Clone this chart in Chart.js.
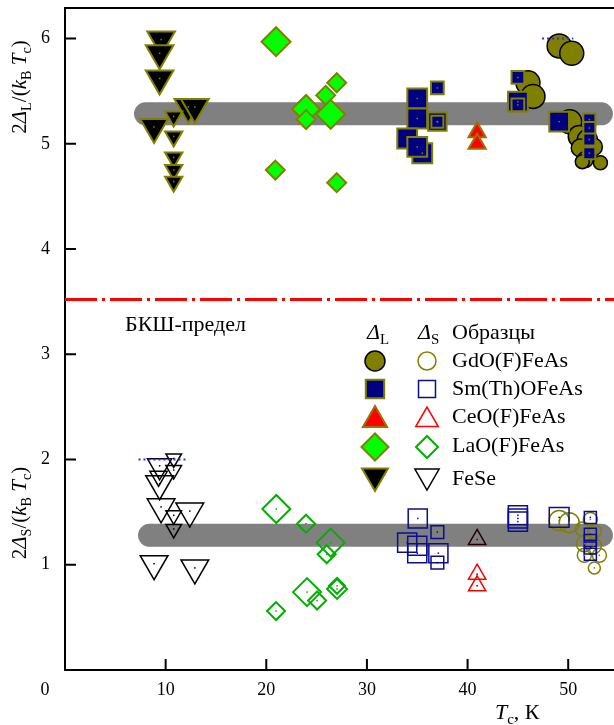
<!DOCTYPE html>
<html>
<head>
<meta charset="utf-8">
<script src="https://cdn.jsdelivr.net/npm/chart.js@4.4.1/dist/chart.umd.min.js"></script>
<style>
  html, body { margin: 0; padding: 0; background: #fff; }
  canvas { display: block; }
</style>
</head>
<body>
<canvas id="gapChart" width="614" height="725"></canvas>
<script>
// --- data: Tc (K) and 2Δ/(kB Tc) ---

// large gap Δ_L (filled markers)
const gdoL_T = [49.1, 50.35, 46.0, 46.5, 50.15, 51.1, 51.9, 51.2, 52.5, 51.7, 51.4, 53.2];
const gdoL_V = [5.93, 5.86, 5.58, 5.45, 5.21, 5.07, 5.04, 4.96, 4.97, 4.85, 4.83, 4.82];
const smoL_T = [35.0, 37.0, 35.0, 37.0, 37.0, 34.0, 35.5, 35.0, 45.0, 45.0, 45.0, 49.1, 52.1, 52.1, 52.1, 52.1];
const smoL_V = [5.43, 5.53, 5.24, 5.21, 5.21, 5.05, 4.91, 4.97, 5.63, 5.40, 5.37, 5.21, 5.23, 5.15, 5.04, 4.91];
const ceoL_T = [40.95, 40.95];
const ceoL_V = [5.11, 5.00];
const laoL_T = [20.97, 27.0, 25.9, 23.95, 23.95, 26.4, 20.9, 27.0];
const laoL_V = [5.97, 5.58, 5.46, 5.33, 5.23, 5.28, 4.75, 4.63];
const feseL_T = [9.55, 9.4, 9.4, 8.85, 12.25, 12.9, 10.8, 10.8, 10.8, 10.8, 10.8];
const feseL_V = [5.99, 5.86, 5.62, 5.16, 5.35, 5.35, 5.26, 5.07, 4.87, 4.75, 4.64];

// small gap Δ_S (open markers)
const gdoS_T = [49.1, 50.1, 51.4, 52.6, 51.6, 52.5, 51.6, 53.1, 52.6, 52.2];
const gdoS_V = [1.42, 1.40, 1.34, 1.32, 1.20, 1.18, 1.09, 1.09, 0.97, 1.43];
const smoS_T = [35.05, 37.0, 34.0, 35.0, 35.0, 37.1, 37.0, 45.0, 45.0, 45.0, 49.1, 52.2, 52.2, 52.2, 52.2, 52.2];
const smoS_V = [1.44, 1.31, 1.21, 1.18, 1.11, 1.11, 1.02, 1.47, 1.44, 1.41, 1.45, 1.45, 1.29, 1.23, 1.16, 1.10];
const ceoS_T = [40.95, 40.95, 40.95];
const ceoS_V = [1.24, 0.91, 0.80];
const laoS_T = [21.0, 23.95, 26.4, 26.0, 24.05, 25.05, 27.03, 27.03, 20.97];
const laoS_V = [1.53, 1.39, 1.21, 1.10, 0.74, 0.66, 0.80, 0.77, 0.56];
const feseS_T = [9.4, 10.8, 10.8, 9.3, 9.4, 9.55, 12.4, 10.8, 10.8, 8.85, 12.9];
const feseS_V = [1.94, 2.01, 1.90, 1.84, 1.77, 1.55, 1.51, 1.47, 1.34, 1.01, 0.97];

// guide levels
const bcsLimit = 3.52;
const bandL = 5.285, bandL_T = [8.0, 53.3];
const bandS = 1.28, bandS_T = [8.4, 53.3];
const limitL = 6.0, limitL_T = [47.4, 50.5];
const limitS = 2.0, limitS_T = [7.3, 12.1];

const xTicks = [10, 20, 30, 40, 50];
const yTicks = [1, 2, 3, 4, 5, 6];
const sampleNames = ['GdO(F)FeAs', 'Sm(Th)OFeAs', 'CeO(F)FeAs', 'LaO(F)FeAs', 'FeSe'];

// --- marker sizes (px) ---
const gdoL_R = [12, 12, 12, 12, 12, 11, 10, 9, 9, 8, 7, 7];
const smoL_R = [14, 9, 14, 13, 8.5, 14, 14, 14, 9, 14, 9, 14, 8.5, 8.5, 8.5, 8.5];
const laoL_R = [14.5, 9.5, 9.5, 14, 9.5, 14.5, 9.5, 9.5];
const feseL_R = [16, 16, 16, 16, 16, 16, 10, 10, 10, 10, 10];
const gdoS_R = [10, 10, 7, 7, 8, 8, 7, 7, 6, 7];
const smoS_R = [13.5, 9, 13.5, 13.5, 13.5, 13.5, 9, 13.5, 13.5, 13.5, 14, 8.5, 8.5, 8.5, 8.5, 8.5];
const laoS_R = [14, 9, 14, 9, 14, 9, 8, 10, 9];
const feseS_R = [14, 9, 9, 10, 16, 16, 16, 9, 9, 16, 16];

const FONT = '"Liberation Serif", "Times New Roman", serif';
const OLIVE = '#808000';

// big markers sit right at the frame; don't let them shrink the plot area
Chart.registry.getController('scatter').prototype.getMaxOverflow = function () { return 0; };

function pts(T, V) {
  return T.map((t, i) => ({ x: t, y: V[i] }));
}

function markers(label, T, V, st) {
  return {
    label: label,
    data: pts(T, V),
    pointStyle: st.shape,
    pointRotation: st.rot || 0,
    pointRadius: st.size,
    pointHoverRadius: st.size,
    pointBackgroundColor: st.fill,
    backgroundColor: st.fill,
    pointBorderColor: st.line,
    borderColor: st.line,
    pointBorderWidth: st.lw,
    pointHoverBorderWidth: st.lw,
    order: st.order || 1,
    dotColor: st.dot
  };
}

function hline(y, T, st) {
  return {
    data: pts(T, T.map(() => y)),
    showLine: true,
    borderColor: st.color,
    borderWidth: st.width,
    borderDash: st.dash || [],
    borderCapStyle: st.cap || 'butt',
    pointRadius: 0,
    pointHoverRadius: 0,
    order: st.order
  };
}

const NONE = 'rgba(0,0,0,0)';
const datasets = [
  hline(bandL, bandL_T, { color: '#808080', width: 23, cap: 'round', order: 10 }),
  hline(bandS, bandS_T, { color: '#808080', width: 23, cap: 'round', order: 10 }),
  hline(bcsLimit, [0, 54.6], { color: '#ff0000', width: 3, dash: [32, 5, 3, 5], order: 9 }),
  hline(limitL, limitL_T, { color: '#2a2aff', width: 2, dash: [2, 3], order: 0 }),
  hline(limitS, limitS_T, { color: '#2a2aff', width: 2, dash: [2, 3], order: 0 }),

  markers('GdO L', gdoL_T, gdoL_V, { shape: 'circle', size: gdoL_R, fill: OLIVE, line: '#000', lw: 1.5, order: 3 }),
  markers('Sm L', smoL_T, smoL_V, { shape: 'rect', size: smoL_R, fill: '#000080', line: OLIVE, lw: 2, order: 2, dot: OLIVE }),
  markers('Ce L', ceoL_T, ceoL_V, { shape: 'triangle', size: 10, fill: '#ff0000', line: '#a07000', lw: 2, order: 2 }),
  markers('La L', laoL_T, laoL_V, { shape: 'rectRot', size: laoL_R, fill: '#00ff00', line: OLIVE, lw: 2, order: 2 }),
  markers('FeSe L', feseL_T, feseL_V, { shape: 'triangle', rot: 180, size: feseL_R, fill: '#000', line: OLIVE, lw: 2, order: 2, dot: OLIVE }),

  markers('GdO S', gdoS_T, gdoS_V, { shape: 'circle', size: gdoS_R, fill: NONE, line: OLIVE, lw: 1.5, order: 3, dot: OLIVE }),
  markers('Sm S', smoS_T, smoS_V, { shape: 'rect', size: smoS_R, fill: NONE, line: '#0c0c90', lw: 1.5, order: 2, dot: '#0c0c90' }),
  markers('Ce S', ceoS_T, ceoS_V, { shape: 'triangle', size: 10, fill: NONE, line: ['#200000', '#ff0000', '#ff0000'], lw: 1.5, order: 2, dot: '#600000' }),
  markers('La S', laoS_T, laoS_V, { shape: 'rectRot', size: laoS_R, fill: NONE, line: '#00b000', lw: 2, order: 2, dot: '#00b000' }),
  markers('FeSe S', feseS_T, feseS_V, { shape: 'triangle', rot: 180, size: feseS_R, fill: NONE, line: '#000', lw: 1.5, order: 2, dot: '#000' })
];

// legend symbols (pixel layout of the key block)
const keyRows = [
  { y: 361, L: { pointStyle: 'circle', radius: 10, fill: OLIVE, line: '#000', lw: 1.5 },
            S: { pointStyle: 'circle', radius: 9, fill: NONE, line: OLIVE, lw: 1.5 } },
  { y: 389, L: { pointStyle: 'rect', radius: 13, fill: '#000080', line: OLIVE, lw: 2 },
            S: { pointStyle: 'rect', radius: 12, fill: NONE, line: '#0c0c90', lw: 1.5 } },
  { y: 420, L: { pointStyle: 'triangle', radius: 14, fill: '#ff0000', line: '#a07000', lw: 2 },
            S: { pointStyle: 'triangle', radius: 13, fill: NONE, line: '#ff0000', lw: 1.5 } },
  { y: 447, L: { pointStyle: 'rectRot', radius: 13.5, fill: '#00ff00', line: OLIVE, lw: 2 },
            S: { pointStyle: 'rectRot', radius: 11, fill: NONE, line: '#00b000', lw: 2 } },
  { y: 476, L: { pointStyle: 'triangle', rotation: 180, radius: 15, fill: '#000', line: OLIVE, lw: 2 },
            S: { pointStyle: 'triangle', rotation: 180, radius: 14, fill: NONE, line: '#000', lw: 1.5 } }
];
const keyBase = [367, 395, 423, 452, 485];
const TEXT = 22;

// draws text made of normal / italic / subscript parts, centred on x
function rich(ctx, parts, x, y, size, align) {
  const fontOf = p => (p.i ? 'italic ' : '') + (p.sub ? size * 0.68 : size) + 'px ' + FONT;
  let w = 0;
  parts.forEach(p => { ctx.font = fontOf(p); p.w = ctx.measureText(p.t).width; w += p.w; });
  let cx = align === 'left' ? x : x - w / 2;
  ctx.textAlign = 'left';
  ctx.textBaseline = 'alphabetic';
  parts.forEach(p => {
    ctx.font = fontOf(p);
    ctx.fillText(p.t, cx, y + (p.sub ? size * 0.22 : 0));
    cx += p.w;
  });
}

function symbol(ctx, s, x, y) {
  ctx.save();
  ctx.fillStyle = s.fill;
  ctx.strokeStyle = s.line;
  ctx.lineWidth = s.lw;
  Chart.helpers.drawPoint(ctx, { pointStyle: s.pointStyle, radius: s.radius, rotation: s.rotation || 0, borderWidth: s.lw }, x, y);
  ctx.restore();
}

const decor = {
  id: 'decor',
  afterDatasetsDraw(chart) {
    const ctx = chart.ctx;
    ctx.save();
    chart.data.datasets.forEach((ds, i) => {
      if (!ds.dotColor) return;
      ctx.fillStyle = ds.dotColor;
      chart.getDatasetMeta(i).data.forEach(p => ctx.fillRect(p.x - 0.75, p.y - 0.75, 1.5, 1.5));
    });
    ctx.restore();
  },
  afterDraw(chart) {
    const ctx = chart.ctx;
    const a = chart.chartArea;
    const xs = chart.scales.x, ys = chart.scales.y;
    ctx.save();
    ctx.strokeStyle = '#000';
    ctx.lineWidth = 2;
    ctx.beginPath();
    ctx.moveTo(a.left - 1, a.top);
    ctx.lineTo(chart.width, a.top);
    // inward ticks
    yTicks.forEach(v => { const py = ys.getPixelForValue(v); ctx.moveTo(a.left, py); ctx.lineTo(a.left + 11, py); });
    xTicks.forEach(v => { const px = xs.getPixelForValue(v); ctx.moveTo(px, a.bottom); ctx.lineTo(px, a.bottom - 11); });
    ctx.stroke();

    ctx.fillStyle = '#000';
    ctx.font = '18px ' + FONT;
    ctx.textAlign = 'center';
    ctx.textBaseline = 'middle';
    ctx.fillText('0', 45, 690);

    // axis titles
    ctx.save();
    ctx.translate(20, 87);
    ctx.rotate(-Math.PI / 2);
    rich(ctx, [{ t: '2' }, { t: 'Δ', i: true }, { t: 'L', sub: true }, { t: '/(' }, { t: 'k', i: true }, { t: 'B', sub: true },
               { t: ' ' }, { t: 'T', i: true }, { t: 'c', sub: true }, { t: ')' }], 0, 6, 21);
    ctx.restore();
    ctx.save();
    ctx.translate(20, 513);
    ctx.rotate(-Math.PI / 2);
    rich(ctx, [{ t: '2' }, { t: 'Δ', i: true }, { t: 'S', sub: true }, { t: '/(' }, { t: 'k', i: true }, { t: 'B', sub: true },
               { t: ' ' }, { t: 'T', i: true }, { t: 'c', sub: true }, { t: ')' }], 0, 6, 21);
    ctx.restore();
    rich(ctx, [{ t: 'T', i: true }, { t: 'c', sub: true }, { t: ', К' }], 495, 719, TEXT, 'left');

    // BCS label
    ctx.font = TEXT + 'px ' + FONT;
    ctx.textAlign = 'left';
    ctx.textBaseline = 'alphabetic';
    ctx.fillText('БКШ-предел', 125, 331);

    // key
    rich(ctx, [{ t: 'Δ', i: true }, { t: 'L', sub: true }], 367, 339, TEXT, 'left');
    rich(ctx, [{ t: 'Δ', i: true }, { t: 'S', sub: true }], 418, 339, TEXT, 'left');
    ctx.font = TEXT + 'px ' + FONT;
    ctx.textAlign = 'left';
    ctx.fillText('Образцы', 452, 339);
    keyRows.forEach((r, i) => {
      symbol(ctx, r.L, 375, r.y);
      symbol(ctx, r.S, 427, r.y);
      ctx.fillStyle = '#000';
      ctx.font = TEXT + 'px ' + FONT;
      ctx.textAlign = 'left';
      ctx.textBaseline = 'alphabetic';
      ctx.fillText(sampleNames[i], 452, keyBase[i]);
    });
    ctx.restore();
  }
};

new Chart(document.getElementById('gapChart'), {
  type: 'scatter',
  data: { datasets: datasets },
  options: {
    responsive: false,
    animation: false,
    events: [],
    layout: { padding: { top: 8, right: 0, left: 0, bottom: 0 } },
    plugins: { legend: { display: false }, tooltip: { enabled: false } },
    scales: {
      x: {
        type: 'linear',
        min: 0,
        max: 54.55,
        grid: { display: false, drawTicks: false },
        border: { display: true, color: '#000', width: 2 },
        ticks: {
          stepSize: 10,
          includeBounds: false,
          autoSkip: false,
          padding: 9,
          color: '#000',
          font: { family: FONT, size: 18 },
          maxRotation: 0,
          callback: v => (xTicks.includes(v) ? v : '')
        },
        afterFit: s => { s.height = 55; s.paddingRight = 0; s.paddingLeft = 0; }
      },
      y: {
        type: 'linear',
        min: 0,
        max: 6.29,
        grid: { display: false, drawTicks: false },
        border: { display: true, color: '#000', width: 2 },
        ticks: {
          stepSize: 1,
          includeBounds: false,
          autoSkip: false,
          padding: 15,
          color: '#000',
          font: { family: FONT, size: 18 },
          callback: v => (yTicks.includes(v) ? v : '')
        },
        afterFit: s => { s.width = 65; s.paddingTop = 0; s.paddingBottom = 0; }
      }
    }
  },
  plugins: [decor]
});
</script>
</body>
</html>
